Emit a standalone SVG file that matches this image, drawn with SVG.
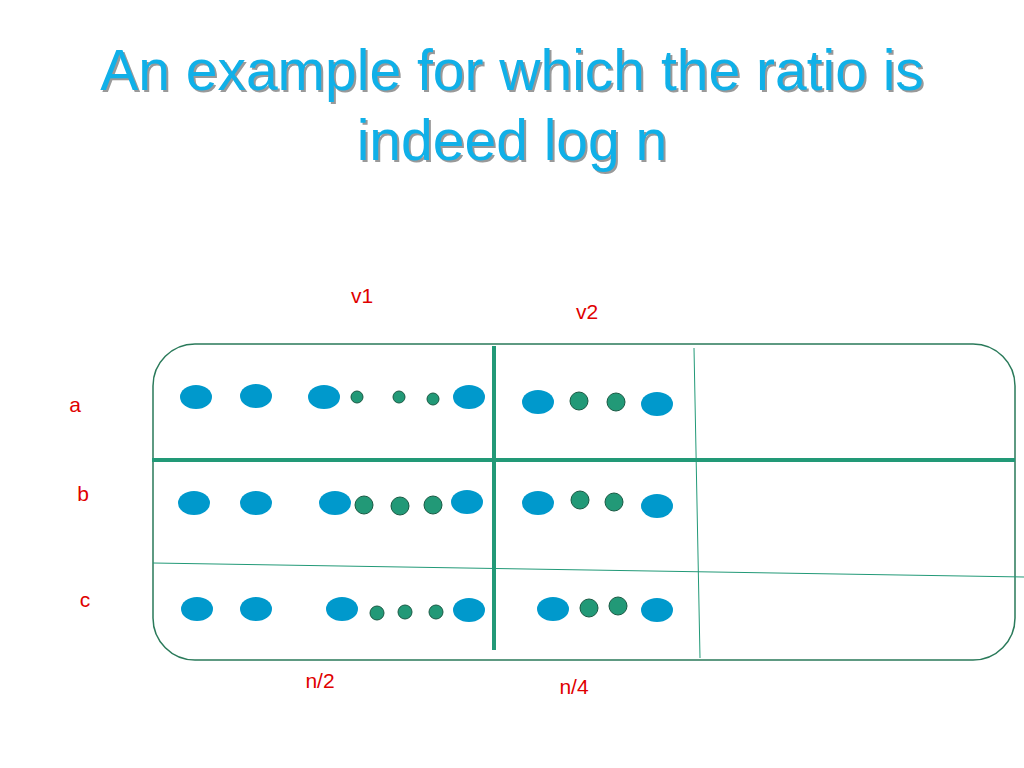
<svg xmlns="http://www.w3.org/2000/svg" width="1024" height="768" viewBox="0 0 1024 768">
<defs>
<style>
.t{font-family:"Liberation Sans",Arial,sans-serif;font-size:57px;text-anchor:middle}
.l{font-family:"Liberation Sans",Arial,sans-serif;font-size:21px;fill:#e00000;text-anchor:middle}
.b{fill:#0099cc}
.g{fill:#229977;stroke:#1a5a44;stroke-width:1}
.thick{stroke:#229977;stroke-width:4;fill:none}
.thin{stroke:#229977;stroke-width:1;fill:none}
</style>
</defs>
<rect width="1024" height="768" fill="#fff"/>
<g id="title">
<text class="t" x="514" y="92" fill="#999">An example for which the ratio is</text>
<text class="t" x="514" y="162" fill="#999">indeed log n</text>
<text class="t" x="512" y="90" fill="#10b0e8">An example for which the ratio is</text>
<text class="t" x="512" y="160" fill="#10b0e8">indeed log n</text>
</g>
<g id="labels">
<text class="l" x="362" y="303">v1</text>
<text class="l" x="587" y="319">v2</text>
<text class="l" x="75" y="412">a</text>
<text class="l" x="83" y="501">b</text>
<text class="l" x="85" y="607">c</text>
<text class="l" x="320" y="688">n/2</text>
<text class="l" x="574" y="694">n/4</text>
</g>
<g id="connectors">
<rect x="153" y="344" width="862" height="316" rx="42" fill="none" stroke="#2a7a5a" stroke-width="1.5"/>
<line class="thick" x1="494" y1="346" x2="494" y2="650"/>
<line class="thick" x1="152" y1="460" x2="1015" y2="460"/>
<line class="thin" x1="694" y1="348" x2="700" y2="658"/>
<line class="thin" x1="153" y1="563" x2="1024" y2="577"/>
</g>
<g id="row-a">
<ellipse class="b" cx="196" cy="397" rx="16" ry="12"/>
<ellipse class="b" cx="256" cy="396" rx="16" ry="12"/>
<ellipse class="b" cx="324" cy="397" rx="16" ry="12"/>
<circle class="g" cx="357" cy="397" r="6"/>
<circle class="g" cx="399" cy="397" r="6"/>
<circle class="g" cx="433" cy="399" r="6"/>
<ellipse class="b" cx="469" cy="397" rx="16" ry="12"/>
<ellipse class="b" cx="538" cy="402" rx="16" ry="12"/>
<circle class="g" cx="579" cy="401" r="9"/>
<circle class="g" cx="616" cy="402" r="9"/>
<ellipse class="b" cx="657" cy="404" rx="16" ry="12"/>
</g>
<g id="row-b">
<ellipse class="b" cx="194" cy="503" rx="16" ry="12"/>
<ellipse class="b" cx="256" cy="503" rx="16" ry="12"/>
<ellipse class="b" cx="335" cy="503" rx="16" ry="12"/>
<circle class="g" cx="364" cy="505" r="9"/>
<circle class="g" cx="400" cy="506" r="9"/>
<circle class="g" cx="433" cy="505" r="9"/>
<ellipse class="b" cx="467" cy="502" rx="16" ry="12"/>
<ellipse class="b" cx="538" cy="503" rx="16" ry="12"/>
<circle class="g" cx="580" cy="500" r="9"/>
<circle class="g" cx="614" cy="502" r="9"/>
<ellipse class="b" cx="657" cy="506" rx="16" ry="12"/>
</g>
<g id="row-c">
<ellipse class="b" cx="197" cy="609" rx="16" ry="12"/>
<ellipse class="b" cx="256" cy="609" rx="16" ry="12"/>
<ellipse class="b" cx="342" cy="609" rx="16" ry="12"/>
<circle class="g" cx="377" cy="613" r="7"/>
<circle class="g" cx="405" cy="612" r="7"/>
<circle class="g" cx="436" cy="612" r="7"/>
<ellipse class="b" cx="469" cy="610" rx="16" ry="12"/>
<ellipse class="b" cx="553" cy="609" rx="16" ry="12"/>
<circle class="g" cx="589" cy="608" r="9"/>
<circle class="g" cx="618" cy="606" r="9"/>
<ellipse class="b" cx="657" cy="610" rx="16" ry="12"/>
</g>
</svg>
